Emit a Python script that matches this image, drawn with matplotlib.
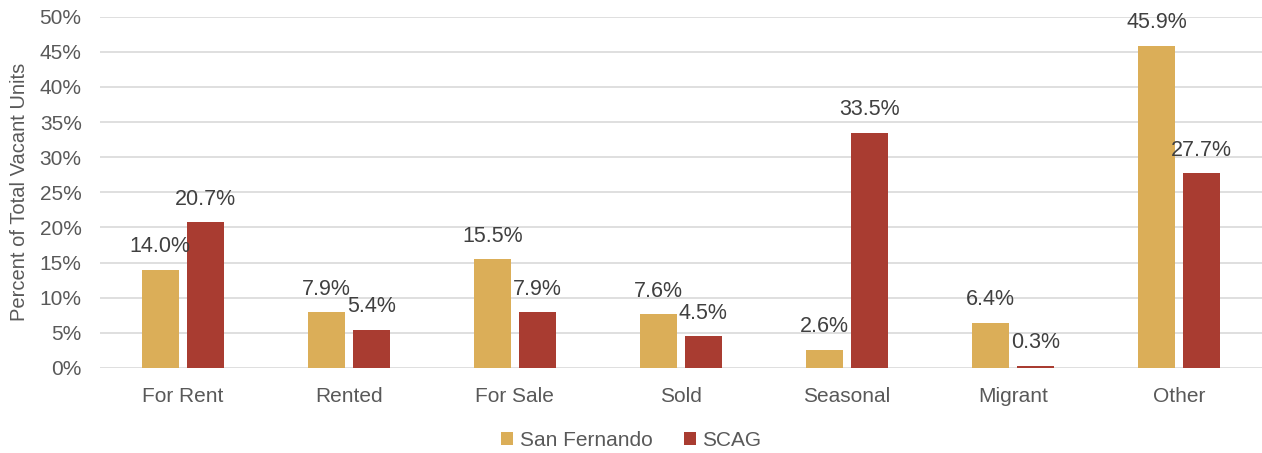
import matplotlib.pyplot as plt
import numpy as np
from matplotlib.ticker import FuncFormatter

# Vacancy status categories and shares (%)
categories = ['For Rent', 'Rented', 'For Sale', 'Sold', 'Seasonal', 'Migrant', 'Other']
san_fernando = [14.0, 7.9, 15.5, 7.6, 2.6, 6.4, 45.9]
scag = [20.7, 5.4, 7.9, 4.5, 33.5, 0.3, 27.7]

plt.rcParams['font.family'] = ['Liberation Sans', 'DejaVu Sans']

fig = plt.figure(figsize=(12.62, 4.53), dpi=100)
ax = fig.add_axes([0.079, 0.188, 0.921, 0.775])

x = np.arange(len(categories))
w = 0.223
off = 0.136
b1 = ax.bar(x - off, san_fernando, w, color='#DBAE58', label='San Fernando', zorder=3)
b2 = ax.bar(x + off, scag, w, color='#A93C31', label='SCAG', zorder=3)

for bars, vals in ((b1, san_fernando), (b2, scag)):
    for rect, v in zip(bars, vals):
        ax.annotate(f'{v:.1f}%', (rect.get_x() + rect.get_width() / 2, v),
                    xytext=(0, 9), textcoords='offset points', ha='center', va='bottom',
                    fontsize=15.5, color='#404040')

ax.set_xlim(-0.5, len(categories) - 0.5)
ax.set_ylim(0, 50)
ax.set_yticks(range(0, 51, 5))
ax.yaxis.set_major_formatter(FuncFormatter(lambda v, p: f'{v:.0f}%'))
ax.set_xticks(x)
ax.set_xticklabels(categories)
ax.tick_params(axis='both', length=0, labelsize=15, colors='#595959')
ax.tick_params(axis='x', pad=14)
ax.tick_params(axis='y', pad=13)
ax.grid(axis='y', color='#D9D9D9', linewidth=1.2, zorder=0)
for s in ax.spines.values():
    s.set_visible(False)
ax.set_ylabel('Percent of Total Vacant Units', fontsize=14.5, color='#595959', labelpad=8)

fig.legend(loc='lower center', bbox_to_anchor=(0.5, -0.035), ncol=2, frameon=False,
           fontsize=15, handlelength=0.6, handleheight=0.6, handletextpad=0.3,
           columnspacing=1.5, labelcolor='#595959')

fig.savefig('out.png', dpi=100)
